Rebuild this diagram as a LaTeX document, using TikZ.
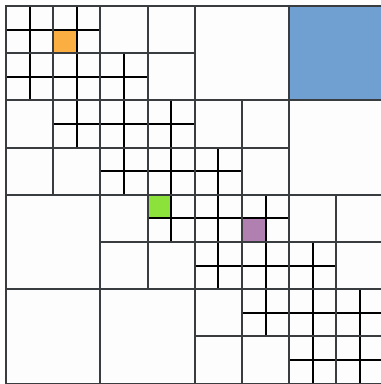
\documentclass[tikz,border=0pt]{standalone}
\usepackage{tikz}
\definecolor{quadGrey}{RGB}{58, 61, 63}
\definecolor{quadWhite}{RGB}{253, 253, 253}
\definecolor{quadOrange}{RGB}{251, 175, 66}
\definecolor{quadGreen}{RGB}{140, 226, 58}
\definecolor{quadPurple}{RGB}{176, 128, 176}
\definecolor{quadBlue}{RGB}{112, 159, 209}

\begin{document}
\begin{tikzpicture}[
  x=23.6pt, y=-23.6pt,
  fine/.style={draw=black, fill=quadWhite, line width=1.9pt},
  leafblock/.style={draw=quadGrey, fill=quadWhite, line width=2.1pt},
  outline/.style={draw=quadGrey, line width=2.1pt}
]
\useasboundingbox (-0.2542,-0.2542) rectangle (15.890,16.017);
% 2x2 blocks that are refined down to single cells
\foreach \bx/\by in {0/0,2/0,0/2,2/2,4/2,2/4,4/4,6/4,4/6,6/6,8/6,6/8,
                     8/8,10/8,8/10,10/10,12/10,10/12,12/12,14/12,12/14,14/14}
  \foreach \dx in {0,1}
    \foreach \dy in {0,1}
      \draw[fine] (\bx+\dx,\by+\dy) rectangle ++(1,1);
\draw[fine, fill=quadOrange] (2,1) rectangle ++(1,1);
\draw[fine, fill=quadGreen] (6,8) rectangle ++(1,1);
\draw[fine, fill=quadPurple] (10,9) rectangle ++(1,1);
% unrefined leaves
\foreach \bx/\by in {4/0,6/0,6/2,0/4,0/6,2/6,8/4,10/4,10/6,4/8,4/10,6/10,
                     12/8,14/8,14/10,8/12,8/14,10/14}
  \draw[leafblock] (\bx,\by) rectangle ++(2,2);
\foreach \bx/\by in {8/0,12/4,0/8,0/12,4/12}
  \draw[leafblock] (\bx,\by) rectangle ++(4,4);
\draw[leafblock, fill=quadBlue] (12,0) rectangle ++(4,4);
% outlines of the refined blocks on top
\foreach \bx/\by in {0/0,2/0,0/2,2/2,4/2,2/4,4/4,6/4,4/6,6/6,8/6,6/8,
                     8/8,10/8,8/10,10/10,12/10,10/12,12/12,14/12,12/14,14/14}
  \draw[outline] (\bx,\by) rectangle ++(2,2);
\end{tikzpicture}
\end{document}
